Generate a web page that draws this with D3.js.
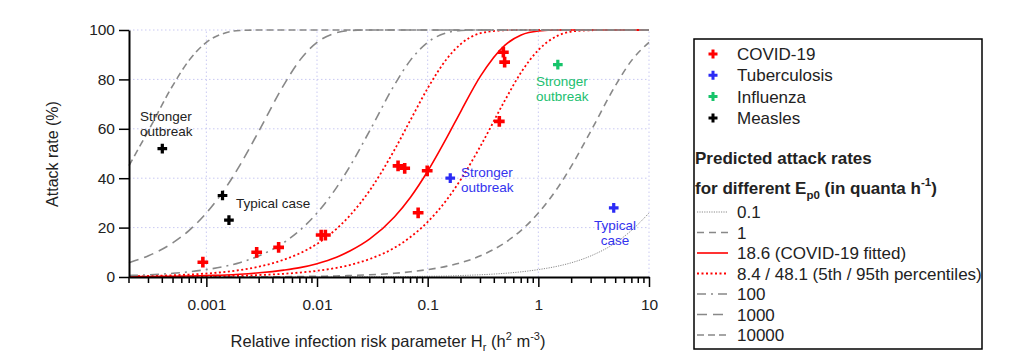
<!DOCTYPE html>
<html>
<head>
<meta charset="utf-8">
<script src="https://cdn.jsdelivr.net/npm/d3@7"></script>
<style>
  body { margin: 0; background: #fff; }
  svg { font-family: "Liberation Sans", Arial, sans-serif; }
</style>
</head>
<body>
<div id="chart"></div>
<script>
// Hr sample points shared by all predicted curves
const hrSamples = [0.0002, 0.0003, 0.0005, 0.0007, 0.001, 0.0015, 0.002, 0.003, 0.005, 0.007,
  0.01, 0.015, 0.02, 0.03, 0.05, 0.07, 0.1, 0.15, 0.2, 0.3, 0.5, 0.7, 1, 1.5, 2, 3, 5, 7, 10];

// predicted attack rates (%), one per Ep0
const arEp0_01 = [0, 0, 0, 0, 0, 0, 0, 0, 0, 0, 0, 0, 0.1, 0.1, 0.1, 0.2, 0.3, 0.4, 0.6, 0.9, 1.5, 2.1, 3.0, 4.4, 5.8, 8.6, 13.9, 19.0, 25.9];
const arEp0_1 = [0, 0, 0, 0, 0, 0, 0.1, 0.1, 0.1, 0.2, 0.3, 0.4, 0.6, 0.9, 1.5, 2.1, 3.0, 4.4, 5.8, 8.6, 13.9, 18.9, 25.9, 36.2, 45.1, 59.3, 77.7, 87.8, 95.0];
const arEp0_186 = [0.1, 0.2, 0.3, 0.4, 0.6, 0.8, 1.1, 1.7, 2.8, 3.8, 5.4, 8.0, 10.6, 15.4, 24.3, 32.3, 42.8, 56.7, 67.2, 81.3, 93.9, 98.0, 99.6, 100, 100, 100, 100, 100, 100];
const arEp0_84 = [0.1, 0.1, 0.1, 0.2, 0.3, 0.4, 0.5, 0.8, 1.3, 1.8, 2.5, 3.7, 4.9, 7.3, 11.8, 16.2, 22.3, 31.5, 39.6, 53.0, 71.6, 82.9, 91.9, 97.7, 99.4, 99.9, 100, 100, 100];
const arEp0_481 = [0.3, 0.4, 0.7, 1.0, 1.4, 2.1, 2.8, 4.2, 7.0, 9.6, 13.4, 19.5, 25.1, 35.1, 51.4, 63.6, 76.4, 88.5, 94.4, 98.7, 99.9, 100, 100, 100, 100, 100, 100, 100, 100];
const arEp0_100 = [0.6, 0.9, 1.5, 2.1, 3.0, 4.4, 5.8, 8.6, 13.9, 18.9, 25.9, 36.2, 45.1, 59.3, 77.7, 87.8, 95.0, 98.9, 99.8, 100, 100, 100, 100, 100, 100, 100, 100, 100, 100];
const arEp0_1000 = [5.8, 8.6, 13.9, 18.9, 25.9, 36.2, 45.1, 59.3, 77.7, 87.8, 95.0, 98.9, 99.8, 100, 100, 100, 100, 100, 100, 100, 100, 100, 100, 100, 100, 100, 100, 100, 100];
const arEp0_10000 = [45.1, 59.3, 77.7, 87.8, 95.0, 98.9, 99.8, 100, 100, 100, 100, 100, 100, 100, 100, 100, 100, 100, 100, 100, 100, 100, 100, 100, 100, 100, 100, 100, 100];

// observed outbreaks
const covidHr = [0.00093, 0.00285, 0.0045, 0.0109, 0.0119, 0.054, 0.062, 0.099, 0.082, 0.444, 0.483, 0.496];
const covidAR = [6, 10, 12, 17, 17, 45, 44, 43, 26, 63, 91, 87];
const tbHr = [0.16, 4.8];
const tbAR = [40, 28];
const fluHr = [1.5];
const fluAR = [86];
const measlesHr = [0.0004, 0.0014, 0.0016];
const measlesAR = [52, 33, 23];

// ticks
const xTickValues = [0.001, 0.01, 0.1, 1, 10];
const xTickLabels = ["0.001", "0.01", "0.1", "1", "10"];
const yTickValues = [0, 20, 40, 60, 80, 100];

const W = 1036, H = 362;
const svg = d3.select("#chart").append("svg").attr("width", W).attr("height", H);

const x = d3.scaleLog().domain([0.0002, 10]).range([129, 649]);
const y = d3.scaleLinear().domain([0, 100]).range([277, 30]);

const grey = "#888888";
const red = "#ff0000";

// gridlines
const grid = svg.append("g").attr("stroke", "#c9c9f2").attr("stroke-width", 1).attr("stroke-dasharray", "1.5,2.5");
grid.selectAll("line.gx").data(xTickValues).join("line")
  .attr("x1", d => x(d)).attr("x2", d => x(d)).attr("y1", y(0)).attr("y2", y(100));
grid.selectAll("line.gy").data(yTickValues.filter(d => d > 0)).join("line")
  .attr("x1", x(0.0002)).attr("x2", x(10)).attr("y1", d => y(d)).attr("y2", d => y(d));

// predicted curves
const curves = [
  { label: "0.1", values: arEp0_01, color: "#8a8a8a", dash: "1.2,1.2", width: 1 },
  { label: "1", values: arEp0_1, color: grey, dash: "7,5", width: 1.6 },
  { label: "18.6 (COVID-19 fitted)", values: arEp0_186, color: red, dash: null, width: 1.6 },
  { label: "8.4 / 48.1 (5th / 95th percentiles)", values: arEp0_84, color: red, dash: "2,2.5", width: 1.8 },
  { label: null, values: arEp0_481, color: red, dash: "2,2.5", width: 1.8 },
  { label: "100", values: arEp0_100, color: grey, dash: "9,5,2,5", width: 1.6 },
  { label: "1000", values: arEp0_1000, color: grey, dash: "10,6", width: 1.6 },
  { label: "10000", values: arEp0_10000, color: grey, dash: "7,4", width: 1.6 }
];

const line = d3.line()
  .x(d => x(d[0]))
  .y(d => y(d[1]))
  .curve(d3.curveMonotoneX);

svg.append("g").selectAll("path").data(curves).join("path")
  .attr("d", c => line(hrSamples.map((h, i) => [h, c.values[i]])))
  .attr("fill", "none")
  .attr("stroke", c => c.color)
  .attr("stroke-width", c => c.width)
  .attr("stroke-dasharray", c => c.dash);

// axes
const xAxis = d3.axisBottom(x)
  .tickValues(xTickValues)
  .tickFormat((d, i) => xTickLabels[i])
  .tickSize(10).tickSizeOuter(0).tickPadding(12);
const gx = svg.append("g").attr("transform", `translate(0,${y(0)})`).call(xAxis);

// minor ticks
const minor = [];
[-4, -3, -2, -1, 0].forEach(p => {
  for (let m = 2; m <= 9; m++) {
    const v = m * Math.pow(10, p);
    if (v >= 0.0002 && v <= 10) minor.push(v);
  }
});
gx.selectAll("line.minor").data(minor).join("line")
  .attr("class", "minor")
  .attr("x1", d => x(d)).attr("x2", d => x(d))
  .attr("y1", 0).attr("y2", 6)
  .attr("stroke", "#000").attr("stroke-width", 1.5);

const yAxis = d3.axisLeft(y).tickValues(yTickValues).tickSize(10).tickSizeOuter(0).tickPadding(4);
const gy = svg.append("g").attr("transform", `translate(${x(0.0002)},0)`).call(yAxis);

[gx, gy].forEach(g => {
  g.select(".domain").attr("stroke", "#000").attr("stroke-width", 2);
  g.selectAll(".tick line").attr("stroke", "#000").attr("stroke-width", 1.5);
  g.selectAll(".tick text").attr("font-size", 15.5).attr("fill", "#222")
    .attr("font-family", "'Liberation Sans', Arial, sans-serif");
});

// axis titles
svg.append("text")
  .attr("transform", "translate(58,154) rotate(-90)")
  .attr("text-anchor", "middle")
  .attr("font-size", 16).attr("fill", "#222")
  .text("Attack rate (%)");

const xt = svg.append("text")
  .attr("x", 388).attr("y", 347)
  .attr("text-anchor", "middle")
  .attr("font-size", 16.5).attr("fill", "#222");
xt.append("tspan").text("Relative infection risk parameter H");
xt.append("tspan").attr("font-size", 11).attr("dy", 4).text("r");
xt.append("tspan").attr("dy", -4).text(" (h");
xt.append("tspan").attr("font-size", 11).attr("dy", -7).text("2");
xt.append("tspan").attr("dy", 7).text(" m");
xt.append("tspan").attr("font-size", 11).attr("dy", -7).text("-3");
xt.append("tspan").attr("dy", 7).text(")");

// observed points
const groups = [
  { name: "COVID-19", hr: covidHr, ar: covidAR, color: "#ff0000", size: 64 },
  { name: "Tuberculosis", hr: tbHr, ar: tbAR, color: "#2b2bf5", size: 52 },
  { name: "Influenza", hr: fluHr, ar: fluAR, color: "#16c46a", size: 52 },
  { name: "Measles", hr: measlesHr, ar: measlesAR, color: "#000000", size: 52 }
];
const cross = d3.symbol().type(d3.symbolCross);
groups.forEach(g => {
  svg.append("g").selectAll("path").data(g.hr.map((h, i) => [h, g.ar[i]])).join("path")
    .attr("transform", d => `translate(${x(d[0])},${y(d[1])})`)
    .attr("d", cross.size(g.size)())
    .attr("fill", g.color);
});

// annotations
const notes = [
  { lines: ["Stronger", "outbreak"], x: 140, y: 121, anchor: "start", color: "#222" },
  { lines: ["Typical case"], x: 236, y: 208, anchor: "start", color: "#222" },
  { lines: ["Stronger", "outbreak"], x: 461, y: 177, anchor: "start", color: "#3333ee" },
  { lines: ["Typical", "case"], x: 615, y: 230, anchor: "middle", color: "#3333ee" },
  { lines: ["Stronger", "outbreak"], x: 536, y: 86, anchor: "start", color: "#22c070" }
];
notes.forEach(n => {
  const t = svg.append("text").attr("font-size", 13.5).attr("fill", n.color).attr("text-anchor", n.anchor);
  n.lines.forEach((l, i) => t.append("tspan").attr("x", n.x).attr("y", n.y + i * 14.5).text(l));
});

// legend
const lg = svg.append("g");
lg.append("rect").attr("x", 694).attr("y", 39).attr("width", 288).attr("height", 310)
  .attr("fill", "#fff").attr("stroke", "#000").attr("stroke-width", 1.5);

groups.forEach((g, i) => {
  const cy = 54 + i * 21.3;
  lg.append("path").attr("transform", `translate(713,${cy})`).attr("d", cross.size(45)()).attr("fill", g.color);
  lg.append("text").attr("x", 737).attr("y", cy + 6).attr("font-size", 17).attr("fill", "#222").text(g.name);
});

lg.append("text").attr("x", 695).attr("y", 164).attr("font-size", 17).attr("font-weight", "bold").attr("fill", "#222")
  .text("Predicted attack rates");
const t2 = lg.append("text").attr("x", 695).attr("y", 194).attr("font-size", 17).attr("font-weight", "bold").attr("fill", "#222");
t2.append("tspan").text("for different E");
t2.append("tspan").attr("font-size", 11.5).attr("dy", 5).text("p0");
t2.append("tspan").attr("dy", -5).text(" (in quanta h");
t2.append("tspan").attr("font-size", 11.5).attr("dy", -8).text("-1");
t2.append("tspan").attr("dy", 8).text(")");

curves.filter(c => c.label).forEach((c, i) => {
  const cy = 212 + i * 20.5;
  lg.append("line").attr("x1", 697).attr("x2", 728).attr("y1", cy).attr("y2", cy)
    .attr("stroke", c.color).attr("stroke-width", c.width).attr("stroke-dasharray", c.dash);
  lg.append("text").attr("x", 737).attr("y", cy + 6).attr("font-size", 17).attr("fill", "#222").text(c.label);
});
</script>
</body>
</html>
